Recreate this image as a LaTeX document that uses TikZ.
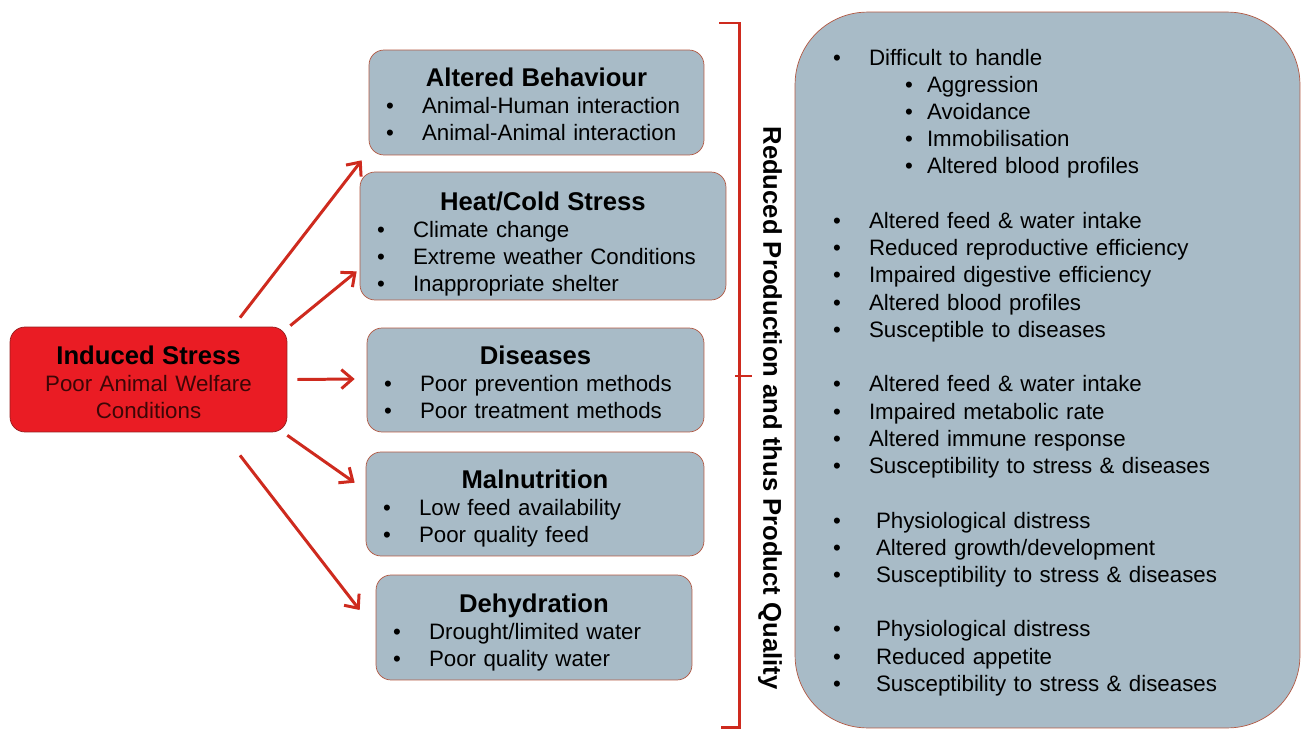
\documentclass[tikz,border=0pt]{standalone}
\usepackage{fontspec}
\setmainfont{Liberation Sans}
\usepackage{tikz}
\usetikzlibrary{arrows.meta}
\definecolor{boxfill}{RGB}{168,187,199}
\definecolor{boxline}{RGB}{178,88,66}
\definecolor{stressred}{RGB}{234,28,36}
\definecolor{stressline}{RGB}{150,30,30}
\definecolor{arrowred}{RGB}{206,42,30}
\definecolor{subred}{RGB}{60,6,6}
\newcommand{\bodyfont}{\fontsize{12.7pt}{15.5pt}\selectfont}
\newcommand{\headfont}{\fontsize{14.6pt}{16pt}\selectfont\bfseries}
\newcommand{\ttl}[1]{\makebox[\linewidth]{\headfont #1}\par}
\newcommand{\itm}[2][0.72cm]{\makebox[#1][l]{\textbullet}#2\par}
\newcommand{\subitm}[1]{\hspace*{1.44cm}\makebox[0.44cm][l]{\textbullet}#1\par}
\newcommand{\gap}{\vspace{15.5pt}}

\begin{document}
\begin{tikzpicture}[x=0.02cm, y=-0.02cm,
  cause/.style={draw=boxline, fill=boxfill, rounded corners=0.3cm, inner xsep=0.34cm, inner ysep=0pt, align=left, font=\bodyfont},
  arr/.style={draw=arrowred, line width=1.7pt, -{Straight Barb[length=2.2mm,width=3.8mm]}}]
\useasboundingbox (0,0) rectangle (1302,730);
%stress
\node[draw=stressline, fill=stressred, rounded corners=0.3cm, inner ysep=0pt] (stress) at (148.5,379.5) [text width=5cm, minimum width=5.54cm, text height=0.74cm, text depth=1.36cm, align=center, font=\bodyfont] {{\headfont Induced Stress}\\ \color{subred}Poor Animal Welfare\\ Conditions};
%causes
\node[cause] (behav) at (536.5,102.5) [text width=6.02cm, text height=0.72cm, text depth=1.38cm] {\ttl{Altered Behaviour}\itm{Animal-Human interaction}\itm{Animal-Animal interaction}};
\node[cause] (heat) at (543,236) [text width=6.64cm, text height=0.76cm, text depth=1.8cm] {\ttl{Heat/Cold Stress}\itm{Climate change}\itm{Extreme weather Conditions}\itm{Inappropriate shelter}};
\node[cause] (disease) at (535.5,380) [text width=6.06cm, text height=0.72cm, text depth=1.36cm] {\ttl{Diseases}\itm{Poor prevention methods}\itm{Poor treatment methods}};
\node[cause] (malnut) at (535,504) [text width=6.08cm, text height=0.72cm, text depth=1.36cm] {\ttl{Malnutrition}\itm{Low feed availability}\itm{Poor quality feed}};
\node[cause] (dehyd) at (534,627.5) [text width=5.64cm, text height=0.74cm, text depth=1.36cm] {\ttl{Dehydration}\itm{Drought/limited water}\itm{Poor quality water}};
%effects
\node[cause, rounded corners=1.45cm] (effects) at (1047.5,370) [inner xsep=0.76cm, text width=8.58cm, text height=1.06cm, text depth=13.26cm] {\itm{Difficult to handle}\subitm{Aggression}\subitm{Avoidance}\subitm{Immobilisation}\subitm{Altered blood profiles}\gap
\itm{Altered feed \& water intake}\itm{Reduced reproductive efficiency}\itm{Impaired digestive efficiency}\itm{Altered blood profiles}\itm{Susceptible to diseases}\gap
\itm{Altered feed \& water intake}\itm{Impaired metabolic rate}\itm{Altered immune response}\itm{Susceptibility to stress \& diseases}\gap
\itm[0.86cm]{Physiological distress}\itm[0.86cm]{Altered growth/development}\itm[0.86cm]{Susceptibility to stress \& diseases}\gap
\itm[0.86cm]{Physiological distress}\itm[0.86cm]{Reduced appetite}\itm[0.86cm]{Susceptibility to stress \& diseases}};
\node[rotate=-90, font=\headfont] (quality) at (770,408) {Reduced Production and thus Product Quality};
%brace
\draw[arrowred, line width=1.7pt] (719,23) -- (739,23) -- (739,727) -- (721,727);
\draw[arrowred, line width=1.7pt] (735,376) -- (752,376);
%arrows
\draw[arr] ([shift={(91.5,-9)}]stress.north) -- ([shift={(-7,5)}]behav.south west);
\draw[arr] ([shift={(3,-1)}]stress.north east) -- ([shift={(-3,-29)}]heat.south west);
\draw[arr] ([shift={(10,0)}]stress.east) -- ([shift={(-12,-1)}]disease.west);
\draw[arr] ([shift={(0,3)}]stress.south east) -- ([shift={(-11,31)}]malnut.north west);
\draw[arr] ([shift={(91.5,23)}]stress.south) -- ([shift={(-16,-17.5)}]dehyd.west);
\end{tikzpicture}
\end{document}
